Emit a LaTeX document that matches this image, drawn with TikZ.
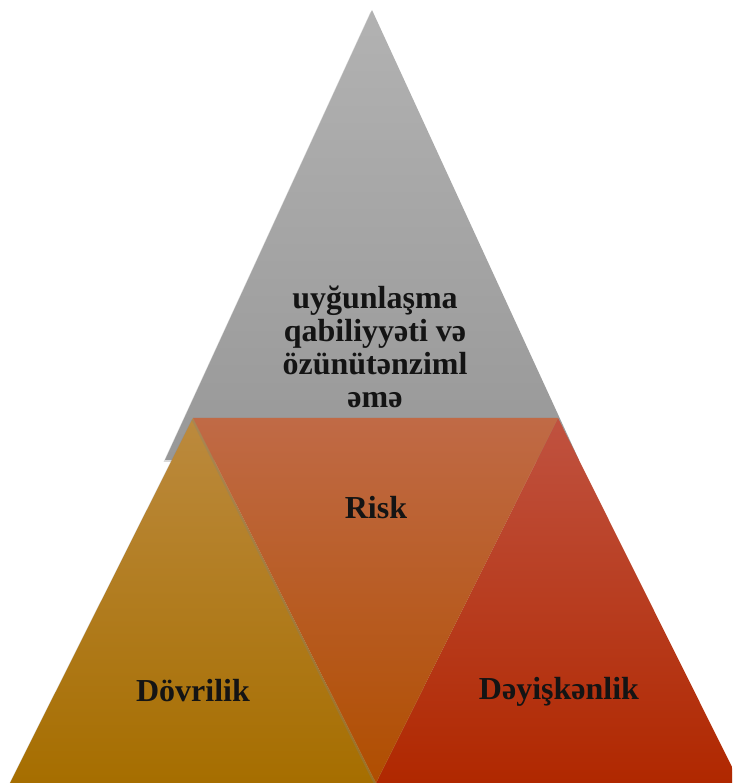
\documentclass[tikz,border=0pt]{standalone}
\usepackage{fontspec}
\setmainfont{Liberation Serif}
\usetikzlibrary{shadows}

\definecolor{grayTop}{RGB}{178,178,178}
\definecolor{grayBot}{RGB}{152,152,152}
\definecolor{goldTop}{RGB}{188,138,62}
\definecolor{goldBot}{RGB}{166,110,0}
\definecolor{orangeTop}{RGB}{192,106,70}
\definecolor{orangeBot}{RGB}{176,78,0}
\definecolor{redTop}{RGB}{192,82,64}
\definecolor{redBot}{RGB}{176,40,0}

\begin{document}
\begin{tikzpicture}[x=1pt,y=1pt,inner sep=1mm,
  label/.style={font=\bfseries\fontsize{32}{33}\selectfont,text=black!92,align=center},
  piece/.style={drop shadow={shadow xshift=-1.5pt,shadow yshift=-2pt,opacity=0.3}}]
  \useasboundingbox (0,0) rectangle (732,783);
  \clip (0,0) rectangle (732,783);
  % corners of the triangles
  \coordinate (apex) at (372,773);
  \coordinate (grayL) at (165,323);
  \coordinate (grayR) at (579,323);
  \coordinate (midL) at (193,365);
  \coordinate (midR) at (558,365);
  \coordinate (baseL) at (10,0);
  \coordinate (baseM) at (376,0);
  \coordinate (baseR) at (740,0);
  % triangles
  \shade[piece,top color=grayTop,bottom color=grayBot] (apex) -- (grayR) -- (grayL) -- cycle;
  \shade[piece,top color=goldTop,bottom color=goldBot] (midL) -- (baseM) -- (baseL) -- cycle;
  \shade[piece,top color=redTop,bottom color=redBot] (midR) -- (baseR) -- (baseM) -- cycle;
  \shade[piece,top color=orangeTop,bottom color=orangeBot] (midL) -- (midR) -- (baseM) -- cycle;
  % labels
  \node[label] (adapt) at (375,436) {uyğunlaşma\\qabiliyyəti və\\özünütənziml\\əmə};
  \node[label] (risk) at (376,275) {Risk};
  \node[label] (cycle) at (193,92) {Dövrilik};
  \node[label] (change) at (559,91) {Dəyişkənlik};
\end{tikzpicture}
\end{document}
